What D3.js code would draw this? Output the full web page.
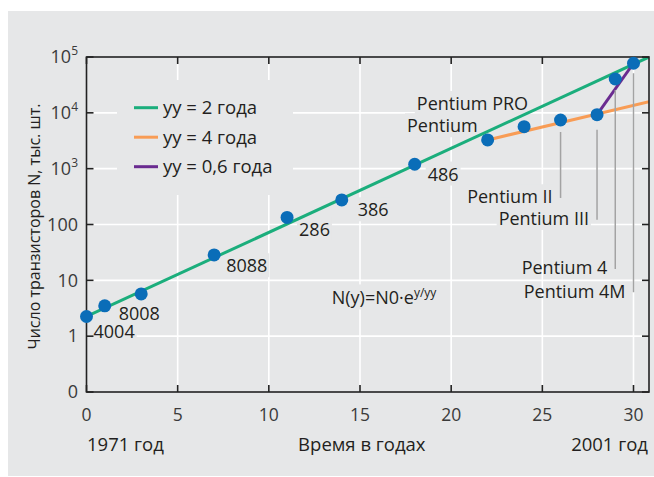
<!DOCTYPE html>
<html>
<head>
<meta charset="utf-8">
<script src="https://cdn.jsdelivr.net/npm/d3@7"></script>
<style>
  body { margin: 0; background: #fff; }
  text { font-family: "Open Sans", sans-serif; fill: #231f20; }
</style>
</head>
<body>
<svg id="chart" width="654" height="477"></svg>
<script>
// Years since 1971 and transistor counts (thousands) per chip
const years  = [0, 1, 3, 7, 11, 14, 18, 22, 24, 26, 28, 29, 30];
const counts = [2.25, 3.5, 5.7, 28.5, 134, 275, 1200, 3270, 5650, 7450, 9270, 40400, 77300];
const chips  = ["4004", "8008", "", "8088", "286", "386", "486", "Pentium", "Pentium PRO",
                "Pentium II", "Pentium III", "Pentium 4", "Pentium 4M"];

// Trend lines (start / end)
const trendNames  = ["yy = 2 года", "yy = 4 года", "yy = 0,6 года"];
const trendYears  = [[0, 30.85], [22, 30.85], [28, 30]];
const trendCounts = [[2.25, 1e5], [3270, 15850], [9270, 77300]];
const trendColors = ["#1bae7c", "#f89c55", "#6a2b90"];

const xTicks = [0, 5, 10, 15, 20, 25, 30];
const yTicks = [0.1, 1, 10, 100, 1e3, 1e4, 1e5];
const yTickBase = ["0", "1", "10", "100", "10", "10", "10"];
const yTickExp  = ["", "", "", "", "3", "4", "5"];

// label placement relative to the dot (pixels)
const labelLayout = [
  {dx: 7,   dy: 15,  anchor: "start", bg: true},
  {dx: 14,  dy: 8,   anchor: "start", bg: true},
  null,
  {dx: 12,  dy: 11,  anchor: "start", bg: true},
  {dx: 12,  dy: 12,  anchor: "start", bg: true},
  {dx: 16,  dy: 10,  anchor: "start", bg: true},
  {dx: 13,  dy: 10,  anchor: "start", bg: true},
  {dx: -10, dy: -14, anchor: "end",   bg: true},
  {dx: 4,   dy: -23, anchor: "end",   bg: true},
  {dx: -8,  dy: 77,  anchor: "end",   bg: true, leader: 12},
  {dx: -8,  dy: 104, anchor: "end",   bg: true, leader: 15},
  {dx: -8,  dy: 189, anchor: "end",   bg: false, leader: 11},
  {dx: -8,  dy: 228, anchor: "end",   bg: false, leader: 10}
];

const panel = "#e6e7e8";
const svg = d3.select("#chart");
const margin = {top: 57, right: 5, bottom: 85, left: 86.5};
const W = +svg.attr("width"), H = +svg.attr("height");

svg.append("rect").attr("x", 8).attr("y", 11).attr("width", W - 8).attr("height", 465).attr("fill", panel);

const x = d3.scaleLinear().domain([0, 30.85]).range([margin.left, W - margin.right]);
const y = d3.scaleLog().domain([0.1, 1e5]).range([H - margin.bottom, margin.top]);

// layers: grid, text backgrounds, lines, axes, labels, dots
const grid = svg.append("g").attr("stroke", "#fff").attr("stroke-width", 1.6);
const bgLayer = svg.append("g").attr("fill", panel);
const lineLayer = svg.append("g");
const axisG = svg.append("g").attr("stroke", "#222").attr("stroke-width", 1.6);
const textLayer = svg.append("g");
const dotLayer = svg.append("g");

// grid
grid.selectAll("line.h").data(yTicks.slice(1, -1)).enter().append("line")
  .attr("x1", x.range()[0]).attr("x2", x.range()[1])
  .attr("y1", d => y(d)).attr("y2", d => y(d));
grid.selectAll("line.v").data(xTicks.slice(1)).enter().append("line")
  .attr("y1", y.range()[0]).attr("y2", y.range()[1])
  .attr("x1", d => x(d)).attr("x2", d => x(d));

function maskBehind(t, pad) {
  const b = t.node().getBBox();
  bgLayer.append("rect").attr("x", b.x - pad).attr("y", b.y)
    .attr("width", b.width + 2 * pad).attr("height", b.height);
}

// legend box hides the grid
bgLayer.append("rect").attr("x", 117).attr("y", 80).attr("width", 176).attr("height", 115);

// formula
const formula = textLayer.append("text").attr("x", x(13.45)).attr("y", y(4.8))
  .attr("dy", "0.35em").style("font-size", "18px");
formula.append("tspan").text("N(y)=N0·e");
formula.append("tspan").attr("dy", -7).style("font-size", "12px").text("y/yy");
maskBehind(formula, 2);

// trend lines
const line = d3.line().x(d => x(d[0])).y(d => y(d[1]));
svg.append("clipPath").attr("id", "clip").append("rect")
  .attr("x", x.range()[0]).attr("y", y.range()[1])
  .attr("width", x.range()[1] - x.range()[0]).attr("height", y.range()[0] - y.range()[1]);

trendYears.forEach((ys, i) => {
  lineLayer.append("path")
    .attr("d", line(ys.map((v, j) => [v, trendCounts[i][j]])))
    .attr("fill", "none").attr("stroke", trendColors[i]).attr("stroke-width", 3)
    .attr("clip-path", "url(#clip)");
});

// legend
trendNames.forEach((name, i) => {
  const ly = 107.7 + i * 29.5;
  lineLayer.append("line").attr("x1", 134).attr("x2", 158).attr("y1", ly).attr("y2", ly)
    .attr("stroke", trendColors[i]).attr("stroke-width", 3);
  textLayer.append("text").attr("x", 163).attr("y", ly).attr("dy", "0.35em")
    .style("font-size", "18.5px").text(name);
});

// axes box and inward ticks
axisG.append("rect").attr("x", x.range()[0]).attr("y", y.range()[1])
  .attr("width", x.range()[1] - x.range()[0]).attr("height", y.range()[0] - y.range()[1])
  .attr("fill", "none");
axisG.selectAll("line.yl").data(yTicks).enter().append("line")
  .attr("x1", x.range()[0]).attr("x2", x.range()[0] + 7).attr("y1", d => y(d)).attr("y2", d => y(d));
axisG.selectAll("line.yr").data(yTicks).enter().append("line")
  .attr("x1", x.range()[1]).attr("x2", x.range()[1] - 7).attr("y1", d => y(d)).attr("y2", d => y(d));
axisG.selectAll("line.xb").data(xTicks).enter().append("line")
  .attr("x1", d => x(d)).attr("x2", d => x(d)).attr("y1", y.range()[0]).attr("y2", y.range()[0] - 7);
axisG.selectAll("line.xt").data(xTicks).enter().append("line")
  .attr("x1", d => x(d)).attr("x2", d => x(d)).attr("y1", y.range()[1]).attr("y2", y.range()[1] + 7);

// tick labels
textLayer.selectAll("text.xt").data(xTicks).enter().append("text")
  .attr("x", d => x(d)).attr("y", y.range()[0] + 23).attr("dy", "0.35em")
  .attr("text-anchor", "middle").style("font-size", "17.5px").style("fill", "#3a3a3a")
  .text(d => d);

yTicks.forEach((d, i) => {
  const t = textLayer.append("text").attr("x", 78).attr("y", y(d)).attr("dy", "0.35em")
    .attr("text-anchor", "end").style("font-size", "18px").style("fill", "#3a3a3a");
  t.append("tspan").text(yTickBase[i]);
  if (yTickExp[i]) t.append("tspan").attr("dy", -8).style("font-size", "12px").text(yTickExp[i]);
});

// axis titles
textLayer.append("text").attr("x", 87).attr("y", 445).attr("dy", "0.35em").style("font-size", "18.5px").text("1971 год");
textLayer.append("text").attr("x", x(15.1)).attr("y", 445).attr("dy", "0.35em").attr("text-anchor", "middle").style("font-size", "18.5px").text("Время в годах");
textLayer.append("text").attr("x", 648).attr("y", 445).attr("dy", "0.35em").attr("text-anchor", "end").style("font-size", "18.5px").text("2001 год");
textLayer.append("text").attr("transform", `translate(34,${(y.range()[0] + y.range()[1]) / 2 + 2}) rotate(-90)`)
  .attr("dy", "0.35em").attr("text-anchor", "middle").style("font-size", "16px")
  .text("Число транзисторов N, тыс. шт.");

// chip labels and leaders
years.forEach((yr, i) => {
  const L = labelLayout[i];
  if (!L) return;
  const px = x(yr), py = y(counts[i]);
  if (L.leader) {
    lineLayer.append("line").attr("x1", px).attr("x2", px)
      .attr("y1", py + L.leader).attr("y2", py + L.dy + 1)
      .attr("stroke", "#a3a3a3").attr("stroke-width", 1.5);
  }
  const t = textLayer.append("text").attr("x", px + L.dx).attr("y", py + L.dy).attr("dy", "0.35em")
    .attr("text-anchor", L.anchor).style("font-size", "18px").text(chips[i]);
  if (L.bg) maskBehind(t, 2);
});

// dots
dotLayer.selectAll("circle").data(years).enter().append("circle")
  .attr("cx", d => x(d)).attr("cy", (d, i) => y(counts[i]))
  .attr("r", 6.5).attr("fill", "#0a6db8");
</script>
</body>
</html>
